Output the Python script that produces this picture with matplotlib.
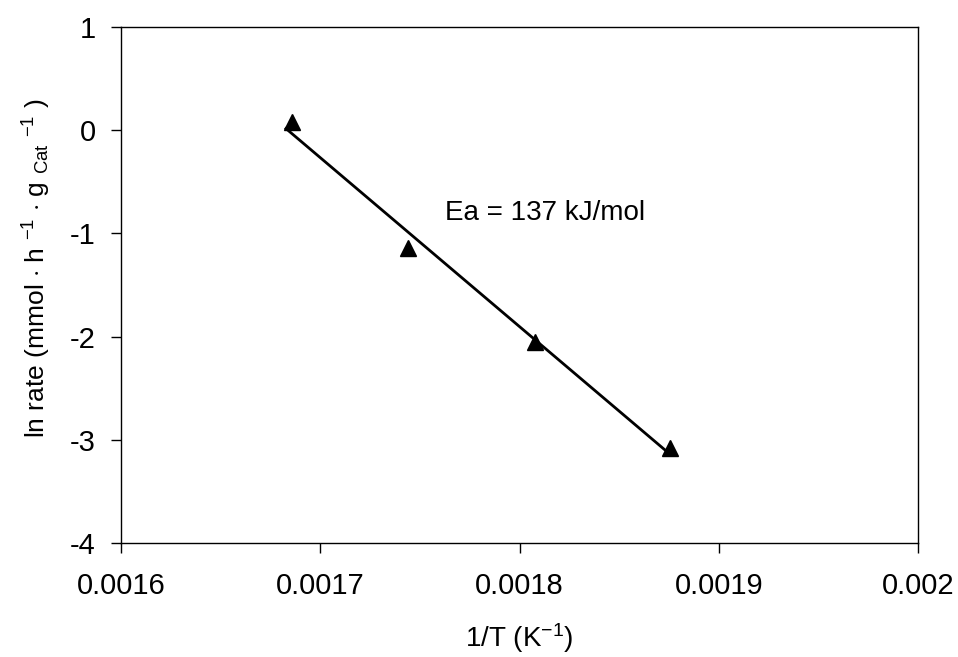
import numpy as np
import matplotlib
matplotlib.use('Agg')
import matplotlib.pyplot as plt

plt.rcParams['font.family'] = ['Liberation Sans', 'DejaVu Sans']
plt.rcParams['mathtext.fontset'] = 'custom'
plt.rcParams['mathtext.rm'] = 'Liberation Sans'
plt.rcParams['mathtext.it'] = 'Liberation Sans'
plt.rcParams['axes.unicode_minus'] = False

# data
inv_T = [0.0016858, 0.001744, 0.0018078, 0.0018755]
ln_rate = [0.08, -1.14, -2.05, -3.08]

fig = plt.figure(figsize=(9.58, 6.57), dpi=100)
ax = fig.add_axes([0.1263, 0.1735, 0.832, 0.7854])

# linear fit (Arrhenius)
k, b = np.polyfit(inv_T, ln_rate, 1)
xf = np.array([min(inv_T) - 0.000003, max(inv_T)])
ax.plot(xf, k * xf + b, color='black', lw=2)
ax.plot(inv_T, ln_rate, '^', color='black', markersize=12, clip_on=False)

ax.text(0.0017626, -0.80, 'Ea = 137 kJ/mol', fontsize=20, va='center', ha='left')

ax.set_xlim(0.0016, 0.002)
ax.set_ylim(-4, 1)
ax.set_xticks([0.0016, 0.0017, 0.0018, 0.0019, 0.002])
ax.set_xticklabels(['0.0016', '0.0017', '0.0018', '0.0019', '0.002'])
ax.set_yticks([-4, -3, -2, -1, 0, 1])
ax.tick_params(direction='out', length=7, width=1, labelsize=21)
ax.tick_params(axis='x', pad=14)
ax.tick_params(axis='y', pad=11)

ax.set_xlabel(r'1/T (K$^{-1}$)', fontsize=20, labelpad=15)
ax.set_ylabel(r'ln rate (mmol $\cdot$ h $^{-1}$ $\cdot$ g $_{\rm Cat}$ $^{-1}$ )',
              fontsize=19)
ax.yaxis.set_label_coords(-0.085, 0.533)

for s in ax.spines.values():
    s.set_linewidth(1)

fig.savefig('out.png', dpi=100)
